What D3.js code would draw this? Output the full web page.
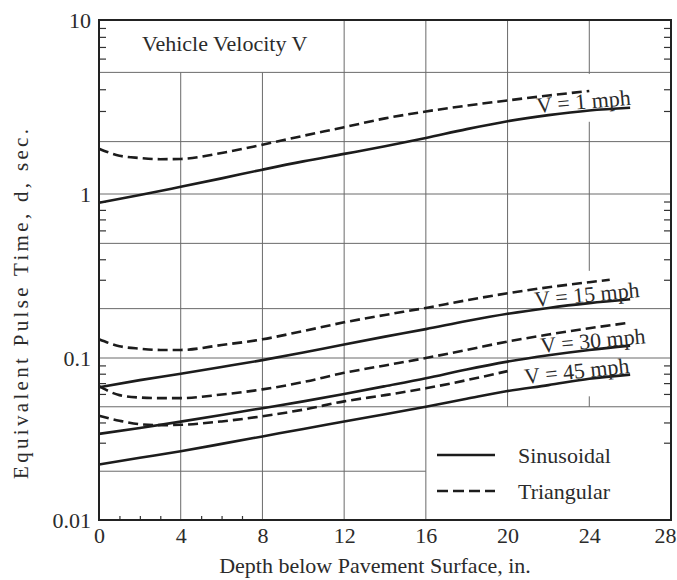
<!DOCTYPE html>
<html>
<head>
<meta charset="utf-8">
<title>Equivalent Pulse Time vs Depth</title>
<script src="https://d3js.org/d3.v7.min.js"></script>
<style>
  body { margin: 0; background: #fff; }
  text { font-family: "Liberation Serif", "DejaVu Serif", serif; fill: #2b2b2b; }
</style>
</head>
<body>
<div id="container"></div>
<script>

// ******* Data *******
// depth below pavement surface, in.
var depthSin = [0, 2, 4, 6, 8, 10, 12, 14, 16, 18, 20, 22, 24, 26];
// sinusoidal pulse, equivalent pulse time d (sec)
var sin1  = [0.885, 0.985, 1.10, 1.23, 1.38, 1.54, 1.70, 1.88, 2.10, 2.36, 2.62, 2.84, 3.02, 3.13];
var sin15 = [0.066, 0.073, 0.080, 0.088, 0.097, 0.108, 0.121, 0.135, 0.150, 0.168, 0.186, 0.202, 0.216, 0.228];
var sin30 = [0.034, 0.037, 0.0405, 0.0445, 0.049, 0.054, 0.060, 0.067, 0.075, 0.085, 0.095, 0.104, 0.112, 0.119];
var sin45 = [0.022, 0.0242, 0.0266, 0.0295, 0.0328, 0.0365, 0.0405, 0.045, 0.050, 0.056, 0.0625, 0.068, 0.0745, 0.079];

// triangular pulse
var depthTri1  = [0, 1, 2, 3, 4, 6, 8, 10, 12, 14, 16, 18, 20, 22, 24];
var tri1       = [1.82, 1.66, 1.61, 1.585, 1.59, 1.72, 1.92, 2.16, 2.42, 2.72, 2.98, 3.22, 3.45, 3.68, 3.91];
var depthTri15 = [0, 1, 2, 3, 4, 6, 8, 10, 12, 14, 16, 18, 20, 22, 24, 25];
var tri15      = [0.130, 0.118, 0.114, 0.112, 0.112, 0.120, 0.130, 0.146, 0.165, 0.183, 0.202, 0.225, 0.248, 0.270, 0.290, 0.300];
var depthTri30 = [0, 1, 2, 3, 4, 6, 8, 10, 12, 14, 16, 18, 20, 22, 24, 25.8];
var tri30      = [0.067, 0.059, 0.057, 0.0565, 0.0565, 0.0595, 0.064, 0.071, 0.081, 0.090, 0.100, 0.112, 0.126, 0.139, 0.152, 0.163];
var depthTri45 = [0, 1, 2, 3, 4, 6, 8, 10, 12, 14, 16, 18, 20];
var tri45      = [0.044, 0.041, 0.039, 0.0385, 0.0387, 0.0406, 0.0437, 0.048, 0.054, 0.059, 0.065, 0.073, 0.083];

var curveLabels = ["V = 1 mph", "V = 15 mph", "V = 30 mph", "V = 45 mph"];
var legendLabels = ["Sinusoidal", "Triangular"];

// ticks
var xTicks = [0, 4, 8, 12, 16, 20, 24, 28];
var xMinor = [1, 2, 3, 5, 6, 7];
var yTicks = [0.01, 0.1, 1, 10];
var yTickLabels = ["0.01", "0.1", "1", "10"];
var yMinorSteps = [3, 4, 6, 7, 8, 9];
var yDecades = [0.01, 0.1, 1];

// grid (with the blank areas of the printed figure)
var vGrid = [[4, 5, 0.01], [8, 5, 0.01], [12, 10, 0.01], [16, 10, 0.01], [20, 10, 0.05],
             [24, 10, 4.9], [24, 2.6, 0.34], [24, 0.058, 0.05]];
var hGrid = [[5, 0, 28], [2, 0, 28], [1, 0, 28], [0.5, 0, 28], [0.2, 0, 28],
             [0.1, 0, 28], [0.05, 0, 28], [0.02, 0, 16]];

// ******* Layout *******
const width = 677, height = 580;
const plot = {left: 99, right: 671, top: 20, bottom: 520};

var svg = d3.select("#container").append("svg")
    .attr("width", width)
    .attr("height", height)
    .style("display", "block");

var x = d3.scaleLinear().domain([0, 28]).range([plot.left, plot.right]);
// the printed decades are not quite equal in height
var y = d3.scaleLog().domain([0.01, 0.1, 1, 10]).range([520, 358, 194, 20]);

// ******* Grid *******
svg.append("g").selectAll("line.v")
  .data(vGrid).enter().append("line")
    .attr("x1", d => x(d[0])).attr("x2", d => x(d[0]))
    .attr("y1", d => y(d[1])).attr("y2", d => y(d[2]))
    .attr("stroke", "#6a6a6a").attr("stroke-width", 1);

svg.append("g").selectAll("line.h")
  .data(hGrid).enter().append("line")
    .attr("x1", d => x(d[1])).attr("x2", d => x(d[2]))
    .attr("y1", d => y(d[0])).attr("y2", d => y(d[0]))
    .attr("stroke", "#6a6a6a").attr("stroke-width", 1);

// ******* Minor ticks (inward) *******
var yMinor = [];
yDecades.forEach(function(dec){ yMinorSteps.forEach(function(s){ yMinor.push(+(dec * s).toPrecision(3)); }); });

svg.append("g")
  .attr("transform", `translate(${plot.left}, 0)`)
  .call(d3.axisLeft(y).tickValues(yMinor).tickSize(-7).tickFormat(""))
  .call(g => g.select(".domain").remove())
  .selectAll("line").attr("stroke", "#333").attr("stroke-width", 1.2);

svg.append("g")
  .attr("transform", `translate(${plot.right}, 0)`)
  .call(d3.axisRight(y).tickValues(yMinor).tickSize(-7).tickFormat(""))
  .call(g => g.select(".domain").remove())
  .selectAll("line").attr("stroke", "#333").attr("stroke-width", 1.2);

svg.append("g")
  .attr("transform", `translate(0, ${plot.bottom})`)
  .call(d3.axisBottom(x).tickValues(xMinor).tickSize(-4).tickFormat(""))
  .call(g => g.select(".domain").remove())
  .selectAll("line").attr("stroke", "#333").attr("stroke-width", 1.2);

// ******* Tick labels *******
var xAxis = svg.append("g")
  .attr("transform", `translate(0, ${plot.bottom})`)
  .call(d3.axisBottom(x).tickValues(xTicks).tickSize(0).tickPadding(8));
xAxis.select(".domain").remove();
xAxis.selectAll("text")
  .attr("dy", null).attr("y", 23)
  .attr("dx", d => d === 28 ? -6 : 0)
  .style("font-size", "22px").style("font-family", "Liberation Serif").attr("fill", "#2b2b2b");

var yAxis = svg.append("g")
  .attr("transform", `translate(${plot.left}, 0)`)
  .call(d3.axisLeft(y).tickValues(yTicks).tickSize(0).tickPadding(8)
        .tickFormat((d, i) => yTickLabels[i]));
yAxis.select(".domain").remove();
yAxis.selectAll("text")
  .attr("dy", "0.34em")
  .style("font-size", "22px").style("font-family", "Liberation Serif").attr("fill", "#2b2b2b");

// ******* Curves *******
var line = d3.line()
  .x(d => x(d[0]))
  .y(d => y(d[1]))
  .curve(d3.curveMonotoneX);

var series = [
  {depth: depthSin, vals: sin1, dash: null},
  {depth: depthSin, vals: sin15, dash: null},
  {depth: depthSin, vals: sin30, dash: null},
  {depth: depthSin, vals: sin45, dash: null},
  {depth: depthTri1, vals: tri1, dash: "10,5"},
  {depth: depthTri15, vals: tri15, dash: "10,5"},
  {depth: depthTri30, vals: tri30, dash: "10,5"},
  {depth: depthTri45, vals: tri45, dash: "10,5"}
];

svg.append("g").selectAll("path")
  .data(series).enter().append("path")
    .attr("d", d => line(d.depth.map((v, i) => [v, d.vals[i]])))
    .attr("fill", "none")
    .attr("stroke", "#1c1c1c")
    .attr("stroke-width", 2.6)
    .attr("stroke-dasharray", d => d.dash);

// ******* Curve labels (sitting on the sinusoidal curves) *******
var labelPos = [[537, 113, -5], [535, 307, -5.4], [541, 353, -5.3], [525, 384, -6]];
svg.append("g").selectAll("text")
  .data(curveLabels).enter().append("text")
    .attr("transform", (d, i) => `translate(${labelPos[i][0]}, ${labelPos[i][1]}) rotate(${labelPos[i][2]})`)
    .style("font-size", "22px")
    .text(d => d);

svg.append("text")
  .attr("x", 142).attr("y", 51)
  .style("font-size", "22px")
  .text("Vehicle Velocity V");

// ******* Legend *******
var legend = svg.append("g");
legendLabels.forEach(function(lab, i){
  var ly = 455 + i * 36;
  legend.append("line")
    .attr("x1", 437).attr("x2", 495).attr("y1", ly).attr("y2", ly)
    .attr("stroke", "#1c1c1c").attr("stroke-width", 2.6)
    .attr("stroke-dasharray", i == 0 ? null : "11,5");
  legend.append("text")
    .attr("x", 518).attr("y", ly + 8)
    .style("font-size", "22px")
    .text(lab);
});

// ******* Frame *******
svg.append("rect")
  .attr("x", plot.left).attr("y", plot.top)
  .attr("width", plot.right - plot.left).attr("height", plot.bottom - plot.top)
  .attr("fill", "none").attr("stroke", "#222").attr("stroke-width", 2);

// ******* Axis captions *******
svg.append("text")
  .attr("x", 375).attr("y", 573)
  .attr("text-anchor", "middle")
  .style("font-size", "22px")
  .text("Depth below Pavement Surface, in.");

svg.append("text")
  .attr("transform", `translate(28, 304) rotate(-90)`)
  .attr("text-anchor", "middle")
  .attr("textLength", 350)
  .attr("lengthAdjust", "spacing")
  .style("font-size", "21px")
  .text("Equivalent Pulse Time, d, sec.");

</script>
</body>
</html>
